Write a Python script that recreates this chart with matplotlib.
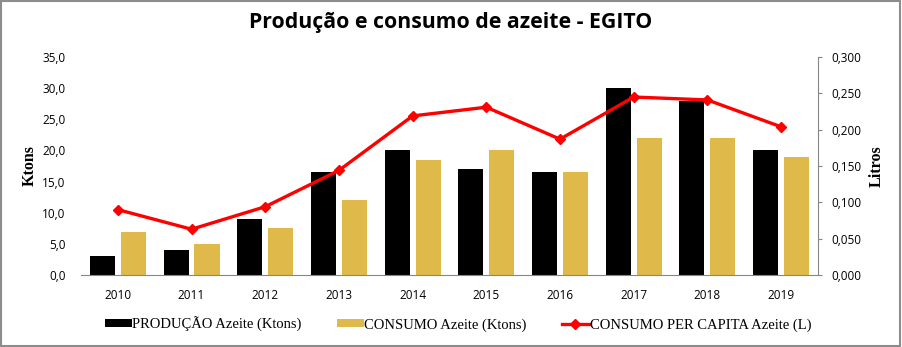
import matplotlib
matplotlib.use("Agg")
import matplotlib.pyplot as plt
import numpy as np
from matplotlib.patches import Rectangle
from matplotlib.ticker import FuncFormatter, MultipleLocator

years = ["2010", "2011", "2012", "2013", "2014", "2015", "2016", "2017", "2018", "2019"]
producao = [3.1, 4.0, 9.0, 16.5, 20.0, 17.0, 16.5, 30.0, 28.0, 20.0]
consumo = [6.9, 5.0, 7.5, 12.0, 18.4, 20.0, 16.5, 22.0, 22.0, 18.9]
per_capita = [0.090, 0.063, 0.094, 0.144, 0.219, 0.231, 0.187, 0.245, 0.241, 0.204]

title = "Produção e consumo de azeite - EGITO"
lab_prod = "PRODUÇÃO Azeite (Ktons)"
lab_cons = "CONSUMO Azeite (Ktons)"
lab_pc = "CONSUMO PER CAPITA Azeite (L)"

fig = plt.figure(figsize=(9.02, 3.47), dpi=100)
ax = fig.add_axes([0.0898, 0.2075, 0.817, 0.628])
ax2 = ax.twinx()

x = np.arange(len(years))
w = 0.34
off = 0.21
b1 = ax.bar(x - off, producao, w, color="#000000", label=lab_prod, zorder=2)
b2 = ax.bar(x + off, consumo, w, color="#E0B94B", label=lab_cons, zorder=2)
l1, = ax2.plot(x, per_capita, color="#FF0000", lw=2.4, marker="D", ms=5.5,
               label=lab_pc, zorder=5)

ax.set_xlim(-0.5, len(years) - 0.5)
ax.set_ylim(0, 35)
ax2.set_ylim(0, 0.3)
ax.yaxis.set_major_locator(MultipleLocator(5))
ax2.yaxis.set_major_locator(MultipleLocator(0.05))
ax.yaxis.set_major_formatter(FuncFormatter(lambda v, p: f"{v:.1f}".replace(".", ",")))
ax2.yaxis.set_major_formatter(FuncFormatter(lambda v, p: f"{v:.3f}".replace(".", ",")))

ax.set_xticks(x)
ax.set_xticklabels(years)

for lab in ax.get_xticklabels() + ax.get_yticklabels() + ax2.get_yticklabels():
    lab.set_fontfamily("Open Sans")
    lab.set_fontsize(8.5)
    lab.set_color("#000000")

for a in (ax, ax2):
    for s in ("top", "left"):
        a.spines[s].set_visible(False)
ax.spines["right"].set_visible(False)
ax2.spines["bottom"].set_visible(False)
ax.spines["bottom"].set_color("#868686")
ax2.spines["right"].set_color("#868686")

ax.tick_params(axis="x", length=0, pad=10)
ax.tick_params(axis="y", length=0, pad=11)
ax2.tick_params(axis="y", length=3, color="#868686", pad=7)

ax.set_ylabel("Ktons", fontfamily="Liberation Serif", fontweight="bold", fontsize=11.5, labelpad=3)
ax2.set_ylabel("Litros", fontfamily="Liberation Serif", fontweight="bold", fontsize=11.5,
               rotation=90, labelpad=5)

fig.text(0.5, 0.935, title, ha="center", va="center", fontfamily="Open Sans",
         fontweight="bold", fontsize=15.3)

leg = fig.legend(handles=[b1, b2, l1], loc="center left", bbox_to_anchor=(0.116, 0.066),
                 ncol=3, frameon=False, prop=dict(family="Liberation Serif", size=10.5),
                 handlelength=1.85, handleheight=0.5, handletextpad=0.05,
                 columnspacing=2.4, borderpad=0, borderaxespad=0)

fig.patches.append(Rectangle((0.001, 0.002), 0.997, 0.995, transform=fig.transFigure,
                             fill=False, edgecolor="#8C8C8C", lw=1.5))

fig.savefig("out.png", dpi=100)
